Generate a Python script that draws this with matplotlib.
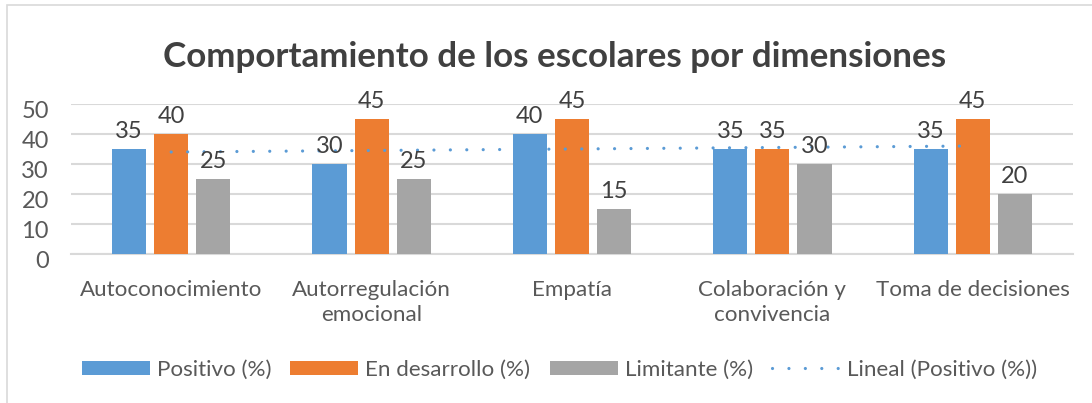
import matplotlib
matplotlib.use("Agg")
import matplotlib.pyplot as plt
import matplotlib.transforms as mtransforms
from matplotlib.patches import Rectangle, Patch
from matplotlib.lines import Line2D
import numpy as np

categories = ["Autoconocimiento", "Autorregulación\nemocional", "Empatía",
              "Colaboración y\nconvivencia", "Toma de decisiones"]
positivo = [35, 30, 40, 35, 35]
desarrollo = [40, 45, 45, 35, 45]
limitante = [25, 25, 15, 30, 20]
series_names = ["Positivo (%)", "En desarrollo (%)", "Limitante (%)"]
trend_name = "Lineal (Positivo (%))"
title = "Comportamiento de los escolares por dimensiones"
yticks = [0, 10, 20, 30, 40, 50]

colors = ["#5B9BD5", "#ED7D31", "#A5A5A5"]
FONT = "Lato"
plt.rcParams['font.family'] = [FONT, 'DejaVu Sans']

W, H = 1092, 403
fig = plt.figure(figsize=(W / 100, H / 100), dpi=100)
fig.patch.set_facecolor("white")

# chart border
fig.add_artist(Rectangle((7 / W, -0.1), 1.2, 1 - 5 / H + 0.1, transform=fig.transFigure,
                         fill=False, edgecolor="#D9D9D9", linewidth=1.2))

x0, x1, ytop, ybot = 71, 1073, 104, 254
ax = fig.add_axes([x0 / W, (H - ybot) / H, (x1 - x0) / W, (ybot - ytop) / H])

x = np.arange(len(categories))
bw = 0.17
off = 0.21
all_series = [positivo, desarrollo, limitante]
for i, (vals, c, name) in enumerate(zip(all_series, colors, series_names)):
    bars = ax.bar(x + (i - 1) * off, vals, width=bw, color=c, label=name, zorder=3)
    for b, v in zip(bars, vals):
        ax.annotate(str(v), (b.get_x() + b.get_width() / 2, v), xytext=(0, 5),
                    textcoords="offset points", ha="center", va="bottom",
                    fontsize=17, color="#404040", zorder=5, annotation_clip=False)

# linear trendline of Positivo
coef = np.polyfit(x, positivo, 1)
trend = np.polyval(coef, x)
lw = 2.3
dash = (0, (0.01, 11.8 / lw))
ax.plot(x, trend, color="#5B9BD5", linewidth=lw, dash_capstyle="round",
        linestyle=dash, zorder=4)

ax.set_xlim(-0.5, len(categories) - 0.5)
ax.set_ylim(0, 50)
ax.set_yticks(yticks)
ax.set_xticks(x)
ax.set_xticklabels(categories, fontsize=16.1, color="#595959", linespacing=1.28)
ax.tick_params(axis="y", length=0, pad=16, labelsize=17, labelcolor="#595959")
ax.tick_params(axis="x", length=0, pad=19)
shift = mtransforms.ScaledTranslation(0, -6 / 100, fig.dpi_scale_trans)
for lbl in ax.get_yticklabels():
    lbl.set_transform(lbl.get_transform() + shift)
ax.grid(axis="y", color="#D9D9D9", linewidth=1.5, zorder=0)
for s in ["top", "right", "left"]:
    ax.spines[s].set_visible(False)
ax.spines["bottom"].set_color("#D9D9D9")
ax.spines["bottom"].set_linewidth(1.5)
ax.set_axisbelow(True)

fig.text(555 / W, 1 - 57 / H, title, ha="center", va="center", fontsize=25.2,
         fontweight="bold", color="#404040")

handles = [Patch(facecolor=c, edgecolor="none") for c in colors]
handles.append(Line2D([0], [0], color="#5B9BD5", linewidth=lw, dash_capstyle="round",
                      linestyle=dash))
labels = series_names + [trend_name]
starts = [82, 290, 550, 772]
for h, l, xs in zip(handles, labels, starts):
    fig.legend([h], [l], loc="center left", bbox_to_anchor=(xs / W, 1 - 370 / H),
               frameon=False, fontsize=16.1, labelcolor="#595959",
               handlelength=3.04, handleheight=0.62, handletextpad=0.31,
               borderpad=0, borderaxespad=0)

fig.savefig("out.png", dpi=100)
